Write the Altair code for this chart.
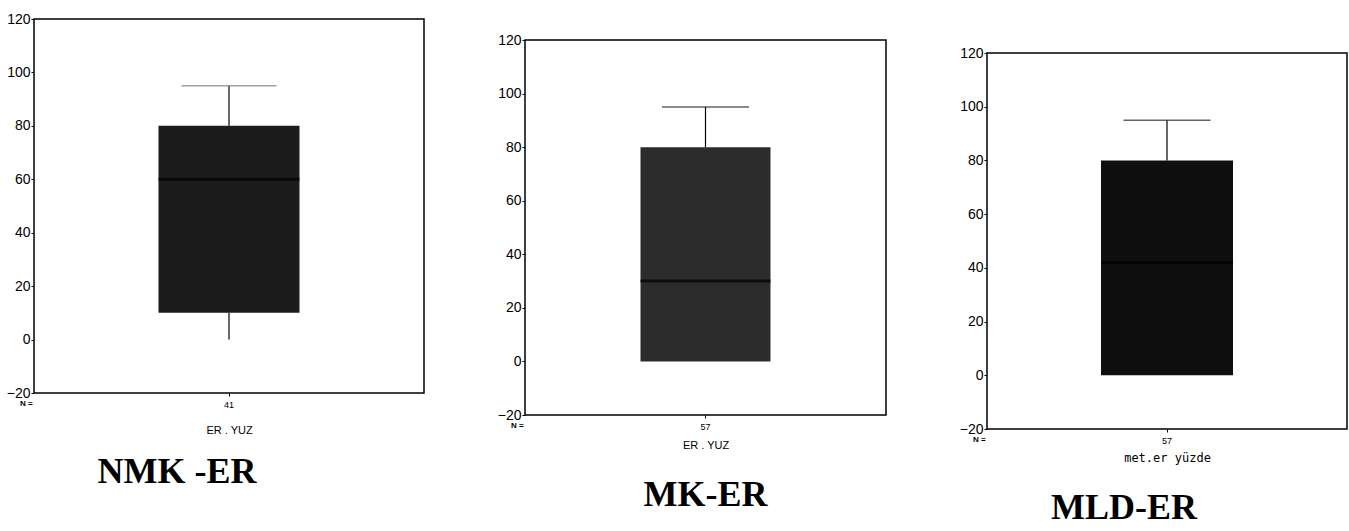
import altair as alt
import pandas as pd

# ---- data ----
panel_titles = ["NMK -ER", "MK-ER", "MLD-ER"]
n_counts = ["41", "57", "57"]
x_titles = ["ER . YUZ", "ER . YUZ", "met.er yüzde"]
whisker_low = [0, 0, 0]
q1 = [10, 0, 0]
median = [60, 30, 42]
q3 = [80, 80, 80]
whisker_high = [95, 95, 95]
y_ticks = [-20, 0, 20, 40, 60, 80, 100, 120]

# ---- styling ----
box_colors = ["#1c1c1c", "#2c2c2c", "#0f0f0f"]
cap_colors = ["#7a7a7a", "#222222", "#222222"]
widths = [390, 361, 360]
heights = [374, 375, 376]
top_spacers = [0, 12, 25]
box_sizes = [141, 130, 132]
cap_sizes = [95, 87, 87]
title_dx = [-52, 0, -43]
title_offsets = [20, 28, 28]
x_title_padding = [15, 8, 7]
x_title_fonts = ["Liberation Sans", "Liberation Sans", "DejaVu Sans Mono"]
x_title_sizes = [11, 11, 12]


def panel(i):
    df = pd.DataFrame({
        "n": [n_counts[i]],
        "lo": [whisker_low[i]],
        "q1": [q1[i]],
        "med": [median[i]],
        "q3": [q3[i]],
        "hi": [whisker_high[i]],
    })
    x = alt.X(
        "n:N",
        title=x_titles[i],
        axis=alt.Axis(
            labelAngle=0, labelFontSize=9, labelFont="Liberation Sans",
            labelColor="black", titleFont=x_title_fonts[i],
            titleFontSize=x_title_sizes[i], titleFontWeight="normal",
            titleColor="black", tickSize=3, tickColor="black",
            labelPadding=4, titlePadding=x_title_padding[i], domain=False,
        ),
    )
    yscale = alt.Scale(domain=[-20, 120], nice=False, zero=False)
    yaxis = alt.Axis(
        values=y_ticks, tickSize=3, tickColor="black", labelFontSize=14,
        labelFont="Liberation Sans", labelColor="black", labelPadding=1,
        grid=False, domain=False, title=None,
    )
    base = alt.Chart(df)
    lower = base.mark_rule(color="black", strokeWidth=1.2).encode(
        x=x, y=alt.Y("lo:Q", scale=yscale, axis=yaxis), y2="q1:Q")
    upper = base.mark_rule(color="black", strokeWidth=1.2).encode(
        x=x, y=alt.Y("q3:Q", scale=yscale, axis=yaxis), y2="hi:Q")
    box = base.mark_bar(size=box_sizes[i], color=box_colors[i]).encode(
        x=x, y=alt.Y("q1:Q", scale=yscale, axis=yaxis), y2="q3:Q")
    med = base.mark_tick(size=box_sizes[i], thickness=3, color="black").encode(
        x=x, y=alt.Y("med:Q", scale=yscale, axis=yaxis))
    cap = base.mark_tick(size=cap_sizes[i], thickness=1.5, color=cap_colors[i]).encode(
        x=x, y=alt.Y("hi:Q", scale=yscale, axis=yaxis))
    ntext = base.mark_text(text="N =", fontSize=8, font="Liberation Sans",
                           fontWeight="bold", color="black", align="left").encode(
        x=alt.value(-14), y=alt.value(heights[i] + 11))
    chart = alt.layer(lower, upper, box, med, cap, ntext).properties(
        width=widths[i], height=heights[i],
        title=alt.TitleParams(
            panel_titles[i], orient="bottom", anchor="middle", dx=title_dx[i],
            offset=title_offsets[i], font="Liberation Serif", fontSize=36,
            fontWeight="bold", color="black",
        ),
    )
    if top_spacers[i] > 0:
        spacer = alt.Chart(pd.DataFrame({"a": [0]})).mark_point(
            opacity=0, size=1).encode(
            x=alt.value(10), y=alt.value(top_spacers[i] / 2)).properties(
            width=widths[i], height=top_spacers[i],
            view=alt.ViewBackground(stroke="transparent"))
        return alt.vconcat(spacer, chart, spacing=0)
    return chart


chart = alt.hconcat(panel(0), panel(1), panel(2), spacing=71).properties(
    padding={"left": 5, "top": 11, "right": 0, "bottom": 0},
    background="white",
).configure_view(stroke="black", strokeWidth=1.5)

chart.save("out.html", embed_options={"renderer": "svg", "actions": False})
